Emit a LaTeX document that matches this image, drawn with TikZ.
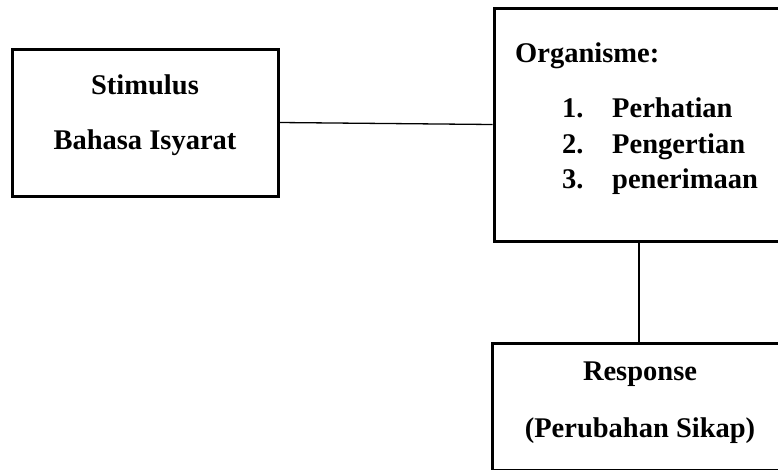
\documentclass[tikz,border=0pt]{standalone}
\usepackage{fontspec}
\setmainfont{Liberation Serif}
\begin{document}
\begin{tikzpicture}[x=1pt, y=-1pt,
    box/.style={draw=black, line width=3pt, inner sep=0pt},
    txt/.style={font=\fontsize{28.5}{34}\selectfont\bfseries, inner sep=0pt},
    link/.style={draw=black, line width=1.3pt}]
  % 画布
  \useasboundingbox (0,0) rectangle (778,469);
  \clip (0,0) rectangle (778,469);

  % 方框
  \node[box, minimum width=266pt, minimum height=147pt] (stim) at (145,122.5) {};
  \node[box, minimum width=290pt, minimum height=233pt] (org) at (639,124.5) {};
  \node[box, minimum width=294pt, minimum height=127pt] (resp) at (639,406.5) {};

  % 文字
  \node[txt, anchor=base] (stimtitle) at (145,94) {Stimulus};
  \node[txt, anchor=base] (stimsub) at (145,149) {Bahasa Isyarat};
  \node[txt, anchor=base west] (orgtitle) at (515,62) {Organisme:};
  \foreach \i/\w/\yy in {1/Perhatian/117, 2/Pengertian/153, 3/penerimaan/188} {
    \node[txt, anchor=base west] (num\i) at (562,\yy) {\i.};
    \node[txt, anchor=base west] (item\i) at (612,\yy) {\w};
  }
  \node[txt, anchor=base] (resptitle) at (640,380) {Response};
  \node[txt, anchor=base] (respsub) at (640,437) {(Perubahan Sikap)};

  % 连线
  \draw[link] (stim.east) -- (org.west);
  \draw[link] (org.south) -- (resp.north);
\end{tikzpicture}
\end{document}
